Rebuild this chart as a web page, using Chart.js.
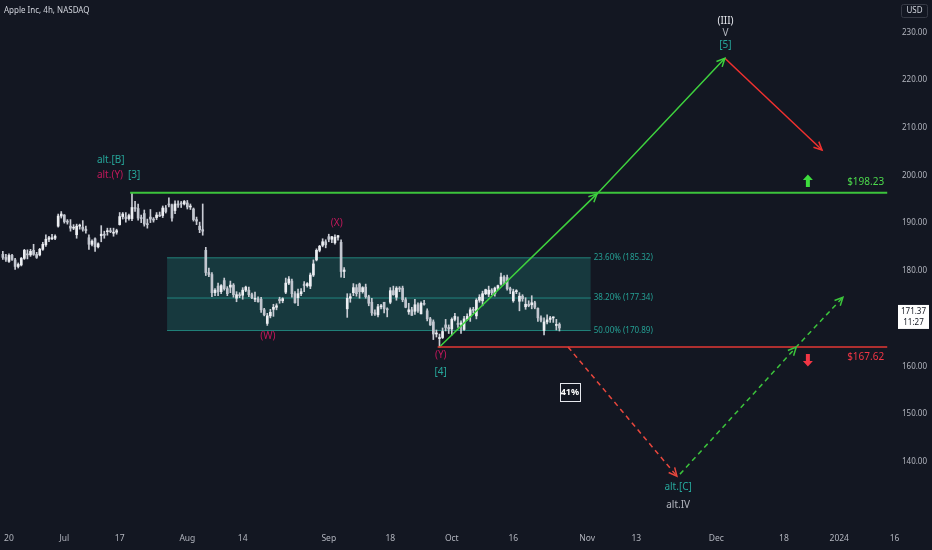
<!DOCTYPE html>
<html lang="en">
<head>
<meta charset="UTF-8">
<title>Apple Inc, 4h, NASDAQ</title>
<script src="https://cdn.jsdelivr.net/npm/chart.js@4.4.0/dist/chart.umd.min.js"></script>
<style>
    html, body { margin: 0; padding: 0; background: #131722; }
    canvas { display: block; }
</style>
</head>
<body>
<canvas id="chart" width="932" height="550"></canvas>
<script>
// x positions are trading-day indexes (0 = Jun 20 2023), two 4h bars per day
const timeTicks  = [0, 9, 18, 29, 38, 52, 62, 72, 82, 94, 102, 115, 126, 135, 144];
const timeLabels = ['20', 'Jul', '17', 'Aug', '14', 'Sep', '18', 'Oct', '16', 'Nov', '13', 'Dec', '18', '2024', '16'];
const priceTicks = [140, 150, 160, 170, 180, 190, 200, 210, 220, 230];
const firstDay = -1;

const opens = [
    186.0,185.4, 184.6,185.8, 184.9,183.6, 183.9,185.2, 186.0,185.9, 186.8,186.0, 185.9,187.0, 187.9,189.0, 189.1,189.2, 191.6,193.6,
    193.8,192.5, 191.6,191.2, 189.9,191.6, 191.4,191.0, 189.3,188.0, 189.1,187.5, 189.7,190.0, 190.5,190.6, 190.2,190.4, 191.9,193.5,
    193.4,193.1, 193.1,195.3, 195.1,193.2, 194.1,192.0, 193.4,193.0, 193.3,193.8, 193.7,195.2, 196.0,195.8, 194.7,196.0, 196.1,196.0,
    196.2,195.4, 195.0,192.9, 191.6,190.9, 186.8,182.4, 182.0,178.4, 179.7,178.6, 180.8,179.2, 179.5,179.9, 177.3,178.0, 177.9,178.9,
    178.9,178.0, 177.1,177.2, 177.1,175.0, 172.3,173.8, 175.1,175.5, 177.1,176.8, 178.5,180.3, 180.7,178.2, 177.4,178.2, 180.1,179.8,
    179.7,181.9, 184.9,186.8, 187.8,188.5, 189.5,189.0, 188.3,189.4, 188.4,182.6, 175.2,177.3, 178.4,179.4, 180.1,178.6, 179.5,177.6,
    176.5,174.4, 174.0,175.6, 176.5,175.2, 176.5,178.8, 177.5,179.3, 179.3,177.0, 174.6,175.0, 174.7,176.0, 174.2,176.3, 174.8,173.2,
    172.6,170.2, 169.3,169.5, 172.0,171.5, 171.2,173.1, 172.3,172.1, 171.1,173.2, 173.8,175.0, 173.8,176.9, 176.8,178.2, 178.1,178.9,
    178.2,179.3, 180.1,181.5, 181.4,179.2, 176.8,178.6, 176.7,177.7, 175.6,176.1, 176.0,176.4, 175.3,173.4, 170.9,172.6, 173.1,173.4,
    171.9,172.1
];
const highs = [
    186.6,186.0, 186.1,186.0, 185.2,184.3, 185.4,187.0, 186.9,187.0, 188.0,186.4, 187.2,188.4, 189.9,189.6, 190.0,189.9, 194.0,194.5,
    193.9,192.9, 192.9,191.9, 192.0,192.0, 192.7,191.6, 189.9,188.9, 189.3,188.3, 191.7,190.6, 191.2,191.2, 191.2,191.0, 194.3,194.3,
    194.3,194.0, 198.2,196.5, 196.0,193.8, 194.8,193.0, 194.9,193.3, 194.3,194.4, 195.6,195.7, 197.2,196.0, 196.6,196.6, 196.5,196.7,
    196.7,196.0, 195.2,193.4, 192.4,196.0, 187.4,183.3, 182.4,179.2, 180.3,180.0, 181.3,179.6, 180.7,180.2, 178.6,178.4, 179.4,179.7,
    179.5,178.3, 178.5,177.6, 177.5,175.3, 174.3,175.1, 176.1,176.2, 177.5,177.4, 181.3,181.6, 181.1,178.6, 179.1,179.2, 180.6,180.4,
    182.3,184.9, 187.1,187.8, 189.1,188.9, 190.0,189.6, 189.9,189.8, 188.9,183.4, 178.2,178.2, 180.2,180.0, 180.3,179.6, 180.1,177.9,
    177.3,175.0, 176.1,176.1, 176.5,175.4, 179.4,179.7, 179.6,179.6, 179.7,177.4, 176.3,175.5, 177.1,176.4, 176.6,176.9, 175.2,173.5,
    173.0,171.0, 170.2,171.4, 173.1,172.0, 173.4,174.3, 173.6,172.8, 173.7,174.2, 175.4,175.5, 177.2,178.0, 178.7,179.1, 179.7,179.2,
    179.5,179.9, 182.3,181.8, 181.9,179.5, 179.1,179.0, 178.4,178.0, 177.4,176.8, 177.8,176.7, 175.4,173.8, 173.4,174.0, 173.7,173.6,
    173.1,172.4
];
const lows = [
    185.0,184.6, 184.4,184.8, 183.0,183.3, 183.7,185.0, 185.1,185.6, 185.8,185.2, 185.7,186.8, 187.6,188.5, 188.9,188.9, 191.4,193.2,
    192.2,192.0, 190.6,190.9, 189.2,191.0, 190.6,190.2, 187.0,187.7, 186.6,187.3, 188.5,189.2, 189.8,190.3, 189.6,190.0, 191.8,193.0,
    192.4,192.8, 192.7,194.5, 192.8,192.3, 191.6,191.2, 192.3,192.4, 192.9,193.5, 193.3,194.2, 195.4,192.6, 194.1,195.3, 195.3,195.8,
    195.0,194.9, 192.6,191.9, 190.3,189.8, 181.8,181.6, 177.6,177.8, 177.8,178.2, 178.9,177.8, 178.4,177.5, 176.6,177.4, 177.1,178.6,
    177.6,177.2, 176.6,176.5, 174.5,173.8, 171.9,173.4, 173.7,175.0, 176.3,176.4, 178.2,180.0, 177.5,176.3, 175.8,177.8, 178.6,179.5,
    179.2,181.6, 184.7,186.5, 187.5,187.3, 188.5,188.3, 188.0,188.8, 181.5,181.4, 173.5,176.5, 177.8,177.7, 177.3,178.3, 177.3,175.8,
    173.9,173.9, 173.6,175.2, 174.4,173.6, 176.2,177.9, 176.9,178.6, 176.6,175.4, 174.1,173.9, 174.1,174.5, 174.2,175.9, 172.8,171.9,
    169.1,169.6, 167.6,169.3, 170.8,170.3, 170.0,172.8, 171.5,170.3, 170.9,172.9, 172.7,174.4, 173.2,176.5, 175.8,178.0, 177.6,178.0,
    177.7,179.0, 179.9,180.2, 178.9,178.2, 176.5,178.2, 174.8,176.7, 175.1,175.6, 175.2,175.2, 172.7,172.6, 170.0,172.2, 172.5,172.5,
    171.0,170.8
];
const closes = [
    185.4,185.0, 185.8,185.0, 183.6,184.0, 185.2,186.8, 185.9,186.6, 186.0,185.4, 187.0,188.0, 189.0,189.3, 189.2,189.6, 193.6,194.0,
    192.5,192.4, 191.2,191.3, 191.6,191.8, 191.0,190.7, 188.0,188.6, 187.5,188.1, 190.0,189.8, 190.6,190.5, 190.4,190.7, 193.5,194.0,
    193.1,193.7, 195.3,195.1, 193.2,193.1, 192.0,191.9, 193.0,192.8, 193.8,193.6, 195.2,194.5, 195.8,193.2, 196.0,195.8, 196.0,196.5,
    195.4,195.6, 192.9,192.6, 190.9,190.6, 182.4,182.0, 178.4,178.9, 178.6,179.8, 179.2,178.2, 179.9,178.0, 178.0,177.8, 178.9,179.5,
    178.0,177.4, 177.2,176.6, 175.0,174.0, 173.8,174.5, 175.5,175.8, 176.8,177.2, 180.3,181.1, 178.2,176.4, 178.2,178.6, 179.8,180.2,
    181.9,184.1, 186.8,187.6, 188.5,187.9, 189.0,189.5, 189.4,189.7, 182.6,182.9, 177.3,177.6, 179.4,178.2, 178.6,179.4, 177.6,176.3,
    174.4,174.2, 175.6,175.7, 175.2,175.0, 178.8,178.0, 179.3,179.1, 177.0,175.5, 175.0,173.9, 176.0,174.8, 176.3,176.1, 173.2,172.0,
    170.2,170.4, 169.5,170.7, 171.5,171.2, 173.1,173.7, 172.1,172.4, 173.2,173.7, 175.0,174.9, 176.9,177.5, 178.2,179.0, 178.9,178.4,
    179.3,179.8, 181.5,180.7, 179.2,178.9, 178.6,178.7, 177.7,177.2, 176.1,175.8, 176.4,175.5, 173.4,172.9, 172.6,173.0, 173.4,173.4,
    172.1,171.4
];

// key levels and Fibonacci retracement zone
const resistance = 198.23;
const support = 167.62;
const fibLevels = [185.32, 177.34, 170.89];
const fibLabels = ['23.60% (185.32)', '38.20% (177.34)', '50.00% (170.89)'];
const fibStart = 25.7, fibEnd = 94.6;

// projected wave paths [day, price]
const mainPath  = [[70, 167.62], [95.6, 198.0], [116.4, 224.9]];
const topDrop   = [[116.4, 224.9], [132.2, 206.7]];
const altDrop   = [[90.9, 167.62], [108.6, 142.0]];
const altRise   = [[109.1, 142.4], [128.0, 167.6], [135.6, 177.5]];

const TEAL = '#26a69a', MAGENTA = '#c2185b', GREEN = '#3cc43c', RED = '#f23645';
const FONT = "'Noto Sans', sans-serif";

const waveLabels = [
    { text: 'alt.[B]', x: 14.3, y: 204.7, color: TEAL, align: 'left' },
    { text: 'alt.(Y)', x: 14.3, y: 201.7, color: MAGENTA, align: 'left' },
    { text: '[3]', x: 19.35, y: 201.7, color: TEAL, align: 'left' },
    { text: '(X)', x: 53.3, y: 192.2, color: MAGENTA },
    { text: '(W)', x: 42.1, y: 169.8, color: MAGENTA },
    { text: '(Y)', x: 70.2, y: 166.0, color: MAGENTA },
    { text: '[4]', x: 70.2, y: 162.7, color: TEAL },
    { text: '(III)', x: 116.5, y: 232.2, color: '#e6e8ee' },
    { text: 'V', x: 116.5, y: 229.9, color: '#b2b5be' },
    { text: '[5]', x: 116.5, y: 227.5, color: TEAL },
    { text: 'alt.[C]', x: 108.8, y: 139.8, color: TEAL },
    { text: 'alt.IV', x: 108.8, y: 136.3, color: '#b2b5be' },
    { text: '$198.23', x: 142.3, y: 200.36, color: '#4cd94c', align: 'right' },
    { text: '$167.62', x: 142.3, y: 165.64, color: RED, align: 'right' }
];

const barDay = i => firstDay + i * 0.5;

function segment(points, color, width, dash, arrowAt) {
    return {
        type: 'line',
        data: points.map(p => ({ x: p[0], y: p[1] })),
        borderColor: color,
        borderWidth: width,
        borderDash: dash,
        pointRadius: 0,
        fill: false,
        tension: 0,
        order: 1,
        arrowAt: arrowAt
    };
}

function fibLine(level) {
    return {
        type: 'line',
        data: [{ x: fibStart, y: level }, { x: fibEnd, y: level }],
        borderColor: 'rgba(38,166,154,0.7)',
        borderWidth: 1,
        pointRadius: 0,
        fill: false,
        order: 19
    };
}

// draws arrowheads, wave labels and the TradingView furniture
const overlay = {
    id: 'overlay',
    afterDatasetsDraw(chart) {
        const { ctx } = chart;
        const xs = chart.scales.x, ys = chart.scales.y, ps = chart.scales.price;
        ctx.save();

        chart.data.datasets.forEach((ds, i) => {
            if (!ds.arrowAt) return;
            const pts = chart.getDatasetMeta(i).data;
            ds.arrowAt.forEach(k => {
                const a = pts[k - 1], b = pts[k];
                const ang = Math.atan2(b.y - a.y, b.x - a.x);
                ctx.strokeStyle = ds.borderColor;
                ctx.lineWidth = ds.borderWidth;
                ctx.setLineDash([]);
                ctx.beginPath();
                ctx.moveTo(b.x - 9 * Math.cos(ang - 0.45), b.y - 9 * Math.sin(ang - 0.45));
                ctx.lineTo(b.x, b.y);
                ctx.lineTo(b.x - 9 * Math.cos(ang + 0.45), b.y - 9 * Math.sin(ang + 0.45));
                ctx.stroke();
            });
        });

        // fib labels
        ctx.font = '8px ' + FONT;
        ctx.textBaseline = 'middle';
        ctx.textAlign = 'left';
        ctx.fillStyle = 'rgba(38,166,154,0.95)';
        fibLevels.forEach((lv, i) => {
            ctx.fillText(fibLabels[i], xs.getPixelForValue(fibEnd) + 3, ys.getPixelForValue(lv));
        });

        // wave labels
        ctx.font = '10px ' + FONT;
        waveLabels.forEach(l => {
            ctx.fillStyle = l.color;
            ctx.textAlign = l.align || 'center';
            ctx.fillText(l.text, xs.getPixelForValue(l.x), ys.getPixelForValue(l.y));
        });

        // up / down arrows next to the levels
        const block = (cx, cy, up, color) => {
            const s = up ? -1 : 1;
            ctx.fillStyle = color;
            ctx.beginPath();
            ctx.moveTo(cx, cy + s * 6.5);
            ctx.lineTo(cx + 5, cy + s * 1);
            ctx.lineTo(cx + 2, cy + s * 1);
            ctx.lineTo(cx + 2, cy - s * 6);
            ctx.lineTo(cx - 2, cy - s * 6);
            ctx.lineTo(cx - 2, cy + s * 1);
            ctx.lineTo(cx - 5, cy + s * 1);
            ctx.closePath();
            ctx.fill();
        };
        block(xs.getPixelForValue(129.9), ys.getPixelForValue(200.56), true, '#3ddc3d');
        block(xs.getPixelForValue(129.9), ys.getPixelForValue(165.04), false, RED);

        // 41% box
        const bx = xs.getPixelForValue(91.2), by = ys.getPixelForValue(158.7);
        ctx.strokeStyle = '#e6e8ee';
        ctx.lineWidth = 1;
        ctx.strokeRect(Math.round(bx - 10) + 0.5, Math.round(by - 9) + 0.5, 20, 18);
        ctx.fillStyle = '#ffffff';
        ctx.font = 'bold 9px ' + FONT;
        ctx.textAlign = 'center';
        ctx.fillText('41%', bx, by + 0.5);

        // title
        ctx.font = '8px ' + FONT;
        ctx.textAlign = 'left';
        ctx.fillStyle = '#d1d4dc';
        ctx.fillText('Apple Inc, 4h, NASDAQ', 4, 11);

        // currency box
        ctx.strokeStyle = '#363a45';
        ctx.beginPath();
        ctx.roundRect(901.5, 4.5, 26, 13, 2);
        ctx.stroke();
        ctx.fillStyle = '#d1d4dc';
        ctx.textAlign = 'center';
        ctx.fillText('USD', 914.5, 11);

        // last price tag
        const last = closes[closes.length - 1];
        const ly = ps.getPixelForValue(last);
        ctx.fillStyle = '#ffffff';
        ctx.fillRect(898, ly - 7, 31, 24);
        ctx.fillStyle = '#131722';
        ctx.textAlign = 'center';
        ctx.fillText('171.37', 913.5, ly);
        ctx.fillText('11:27', 913.5, ly + 11);

        ctx.restore();
    }
};

const wickData = highs.map((h, i) => ({ x: barDay(i), y: [lows[i], h] }));
const bodyData = opens.map((o, i) => ({ x: barDay(i), y: [Math.min(o, closes[i]), Math.max(o, closes[i])] }));

new Chart(document.getElementById('chart'), {
    type: 'bar',
    data: {
        datasets: [
            {
                type: 'line',
                data: [{ x: fibStart, y: fibLevels[0] }, { x: fibEnd, y: fibLevels[0] }],
                borderColor: 'rgba(38,166,154,0.7)',
                borderWidth: 1,
                backgroundColor: 'rgba(38,166,154,0.24)',
                fill: { value: fibLevels[2] },
                pointRadius: 0,
                order: 20
            },
            fibLine(fibLevels[1]),
            fibLine(fibLevels[2]),
            {
                data: wickData,
                backgroundColor: '#c9ccd4',
                barThickness: 1,
                grouped: false,
                order: 6
            },
            {
                data: bodyData,
                backgroundColor: opens.map((o, i) => closes[i] >= o ? '#eceef2' : '#c2c6cf'),
                barThickness: 2,
                minBarLength: 1,
                grouped: false,
                order: 5
            },
            segment([[19.7, resistance], [142.8, resistance]], GREEN, 2, []),
            segment([[69.7, support], [142.8, support]], '#e53935', 1.5, []),
            segment(mainPath, '#3ed13e', 1.5, [], [1, 2]),
            segment(topDrop, '#f0312f', 1.5, [], [1]),
            segment(altDrop, '#e8473d', 1.5, [5, 4], [1]),
            segment(altRise, '#3cc43c', 1.5, [5, 4], [1, 2])
        ]
    },
    options: {
        responsive: false,
        animation: false,
        events: [],
        layout: { padding: 0 },
        font: { family: FONT },
        plugins: { legend: { display: false }, tooltip: { enabled: false } },
        scales: {
            x: {
                type: 'linear',
                min: -1.46,
                max: 150.08,
                offset: false,
                grid: { display: false, drawTicks: false },
                border: { display: false },
                ticks: {
                    autoSkip: false,
                    maxRotation: 0,
                    padding: 11,
                    color: '#b2b5be',
                    font: { family: FONT, size: 8.5 },
                    callback: (v, i) => timeLabels[i]
                },
                afterBuildTicks: s => { s.ticks = timeTicks.map(v => ({ value: v })); },
                afterFit: s => { s.height = 28; s.paddingLeft = 0; s.paddingRight = 0; }
            },
            y: {
                display: false,
                min: 132.90,
                max: 236.47
            },
            price: {
                position: 'right',
                min: 127.38,
                max: 236.77,
                grid: { display: false, drawTicks: false },
                border: { display: false },
                ticks: {
                    mirror: true,
                    padding: -5,
                    color: '#b2b5be',
                    font: { family: FONT, size: 8 },
                    callback: v => v.toFixed(2)
                },
                afterBuildTicks: s => { s.ticks = priceTicks.map(v => ({ value: v })); },
                afterFit: s => { s.width = 0; s.paddingTop = 0; s.paddingBottom = 0; }
            }
        }
    },
    plugins: [overlay]
});
</script>
</body>
</html>
